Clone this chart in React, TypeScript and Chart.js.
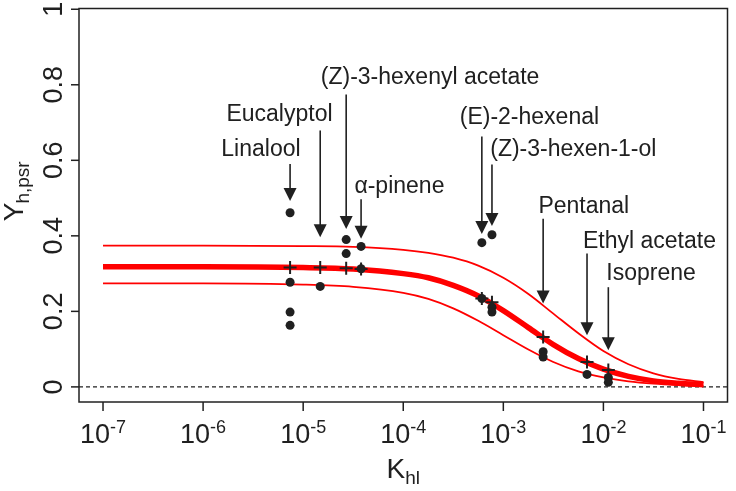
import { useEffect, useRef } from 'react';
import { Chart, registerables } from 'chart.js';

Chart.register(...registerables);

const FONT = '"Liberation Sans", Arial, Helvetica, sans-serif';
const INK = '#202020';
const RED = '#ff0000';

// Fitted partition curve (thick) and its upper / lower bounds, sampled along K_hl
const curveKhl = [1e-7, 1e-6, 1e-5, 3.16e-5, 1e-4, 1.78e-4, 3.16e-4, 5.62e-4, 1e-3, 1.78e-3, 3.16e-3, 5.62e-3, 1e-2, 1.78e-2, 3.16e-2, 5.62e-2, 1e-1];
const fitMid = [0.318, 0.318, 0.316, 0.312, 0.300, 0.289, 0.269, 0.241, 0.202, 0.157, 0.112, 0.075, 0.047, 0.028, 0.016, 0.0097, 0.0054];
const fitUpper = [0.374, 0.374, 0.373, 0.371, 0.363, 0.355, 0.342, 0.321, 0.289, 0.246, 0.194, 0.142, 0.095, 0.060, 0.036, 0.021, 0.0125];
const fitLower = [0.274, 0.274, 0.271, 0.265, 0.249, 0.233, 0.208, 0.175, 0.137, 0.099, 0.066, 0.041, 0.025, 0.0146, 0.0084, 0.0048, 0.0027];

// Compounds, their K_hl and the model prediction (+)
const compounds = ['Linalool', 'Eucalyptol', '(Z)-3-hexenyl acetate', 'α-pinene', '(E)-2-hexenal', '(Z)-3-hexen-1-ol', 'Pentanal', 'Ethyl acetate', 'Isoprene'];
const compoundKhl = [7.4e-6, 1.48e-5, 2.69e-5, 3.79e-5, 6.1e-4, 7.7e-4, 2.5e-3, 6.86e-3, 1.12e-2];
const predicted = [0.316, 0.316, 0.314, 0.312, 0.234, 0.224, 0.132, 0.066, 0.045];

// Measured yields: compound index and value
const obsCompound = [0, 0, 0, 0, 1, 2, 2, 3, 3, 4, 4, 5, 5, 5, 6, 6, 7, 8, 8];
const obsValue = [0.461, 0.277, 0.198, 0.163, 0.266, 0.390, 0.353, 0.372, 0.313, 0.382, 0.234, 0.403, 0.211, 0.198, 0.093, 0.079, 0.033, 0.025, 0.012];

// Annotation arrows and labels (data units)
const arrowTop = [0.590, 0.679, 0.774, 0.497, 0.663, 0.589, 0.445, 0.353, 0.264];
const arrowTip = [0.492, 0.396, 0.418, 0.392, 0.405, 0.426, 0.221, 0.137, 0.097];
const labelY = [0.611, 0.703, 0.803, 0.513, 0.695, 0.611, 0.461, 0.369, 0.282];
const labelKhl = [1.52e-6, 1.71e-6, 1.50e-5, 3.25e-5, 3.67e-4, 7.40e-4, 2.24e-3, 6.25e-3, 1.07e-2];

// Axis ticks
const xTicks = [1e-7, 1e-6, 1e-5, 1e-4, 1e-3, 1e-2, 1e-1];
const yTicks = [0, 0.2, 0.4, 0.6, 0.8, 1];

const decor = {
  id: 'decor',
  beforeDatasetsDraw(chart: any) {
    const { ctx, chartArea: a, scales } = chart;
    const y0 = scales.y.getPixelForValue(0);
    ctx.save();
    ctx.strokeStyle = INK;
    ctx.lineWidth = 1.3;
    ctx.setLineDash([4, 3]);
    ctx.beginPath();
    ctx.moveTo(a.left, y0);
    ctx.lineTo(a.right, y0);
    ctx.stroke();
    ctx.restore();
  },
  afterDatasetsDraw(chart: any) {
    const { ctx, scales } = chart;
    const { x, y } = scales;
    ctx.save();
    ctx.strokeStyle = INK;
    ctx.fillStyle = INK;
    ctx.lineWidth = 1.6;
    compounds.forEach((name, i) => {
      const px = x.getPixelForValue(compoundKhl[i]);
      const yTop = y.getPixelForValue(arrowTop[i]);
      const yTip = y.getPixelForValue(arrowTip[i]);
      ctx.beginPath();
      ctx.moveTo(px, yTop);
      ctx.lineTo(px, yTip - 12);
      ctx.stroke();
      ctx.beginPath();
      ctx.moveTo(px - 6.5, yTip - 13);
      ctx.lineTo(px + 6.5, yTip - 13);
      ctx.lineTo(px, yTip);
      ctx.closePath();
      ctx.fill();
      ctx.font = `23px ${FONT}`;
      ctx.textAlign = 'left';
      ctx.textBaseline = 'alphabetic';
      ctx.fillText(name, x.getPixelForValue(labelKhl[i]), y.getPixelForValue(labelY[i]));
    });
    ctx.restore();
  },
  afterDraw(chart: any) {
    const { ctx, chartArea: a, scales } = chart;
    const { x, y } = scales;
    ctx.save();
    ctx.strokeStyle = INK;
    ctx.fillStyle = INK;
    ctx.lineWidth = 1.5;
    ctx.strokeRect(a.left, a.top, a.right - a.left, a.bottom - a.top);

    // x axis: decade ticks with superscript exponents
    x.ticks.forEach((t: any) => {
      const px = x.getPixelForValue(t.value);
      ctx.beginPath();
      ctx.moveTo(px, a.bottom);
      ctx.lineTo(px, a.bottom + 9);
      ctx.stroke();
      const exp = String(Math.round(Math.log10(t.value)));
      ctx.font = `27px ${FONT}`;
      const wb = ctx.measureText('10').width;
      ctx.font = `18px ${FONT}`;
      const ws = ctx.measureText(exp).width;
      const start = px - (wb + ws) / 2;
      ctx.textAlign = 'left';
      ctx.textBaseline = 'alphabetic';
      ctx.font = `27px ${FONT}`;
      ctx.fillText('10', start, a.bottom + 41);
      ctx.font = `18px ${FONT}`;
      ctx.fillText(exp, start + wb, a.bottom + 31);
    });

    // y axis: labels parallel to the axis
    y.ticks.forEach((t: any) => {
      const py = y.getPixelForValue(t.value);
      ctx.beginPath();
      ctx.moveTo(a.left - 8, py);
      ctx.lineTo(a.left, py);
      ctx.stroke();
      ctx.save();
      ctx.translate(a.left - 17, py);
      ctx.rotate(-Math.PI / 2);
      ctx.font = `27px ${FONT}`;
      ctx.textAlign = 'center';
      ctx.textBaseline = 'alphabetic';
      ctx.fillText(String(Math.round(t.value * 10) / 10), 0, 0);
      ctx.restore();
    });

    // y title: Y with subscript h,psr
    const cy = (a.top + a.bottom) / 2;
    ctx.save();
    ctx.translate(a.left - 56, cy + 16);
    ctx.rotate(-Math.PI / 2);
    ctx.textAlign = 'left';
    ctx.font = `28px ${FONT}`;
    ctx.fillText('Y', 0, 0);
    const wY = ctx.measureText('Y').width;
    ctx.font = `19px ${FONT}`;
    ctx.fillText('h,psr', wY - 1, 6);
    ctx.restore();

    // x title: K with subscript hl
    const cx = (a.left + a.right) / 2;
    ctx.font = `28px ${FONT}`;
    const wK = ctx.measureText('K').width;
    ctx.font = `19px ${FONT}`;
    const wh = ctx.measureText('hl').width;
    const sx = cx - (wK + wh) / 2;
    ctx.textAlign = 'left';
    ctx.font = `28px ${FONT}`;
    ctx.fillText('K', sx, a.bottom + 76);
    ctx.font = `19px ${FONT}`;
    ctx.fillText('hl', sx + wK, a.bottom + 82);
    ctx.restore();
  },
};

export default function App() {
  const ref = useRef<HTMLCanvasElement>(null);

  useEffect(() => {
    const curve = (vals: number[]) => curveKhl.map((k, i) => ({ x: k, y: vals[i] }));
    const chart = new Chart(ref.current as HTMLCanvasElement, {
      type: 'scatter',
      data: {
        datasets: [
          {
            label: 'measured',
            data: obsCompound.map((c, i) => ({ x: compoundKhl[c], y: obsValue[i] })),
            pointRadius: 4.5,
            pointBackgroundColor: INK,
            pointBorderWidth: 0,
            order: 0,
          },
          {
            label: 'model',
            data: compoundKhl.map((k, i) => ({ x: k, y: predicted[i] })),
            pointStyle: 'cross',
            pointRadius: 6.5,
            pointBorderColor: INK,
            pointBorderWidth: 2,
            order: 1,
          },
          {
            label: 'fit',
            data: curve(fitMid),
            showLine: true,
            borderColor: RED,
            borderWidth: 5.5,
            pointRadius: 0,
            cubicInterpolationMode: 'monotone',
            order: 2,
          },
          {
            label: 'upper',
            data: curve(fitUpper),
            showLine: true,
            borderColor: RED,
            borderWidth: 1.8,
            pointRadius: 0,
            cubicInterpolationMode: 'monotone',
            order: 3,
          },
          {
            label: 'lower',
            data: curve(fitLower),
            showLine: true,
            borderColor: RED,
            borderWidth: 1.8,
            pointRadius: 0,
            cubicInterpolationMode: 'monotone',
            order: 4,
          },
        ],
      } as any,
      options: {
        animation: false,
        responsive: true,
        maintainAspectRatio: false,
        events: [],
        layout: { padding: { left: 0, right: 5, top: 6, bottom: 0 } },
        plugins: { legend: { display: false }, tooltip: { enabled: false } },
        scales: {
          x: {
            type: 'logarithmic',
            min: Math.pow(10, -7.24),
            max: Math.pow(10, -0.76),
            grid: { display: false },
            border: { display: false },
            ticks: { display: false },
            afterBuildTicks: (s: any) => { s.ticks = xTicks.map((v) => ({ value: v })); },
            afterFit: (s: any) => { s.height = 89; },
          },
          y: {
            type: 'linear',
            min: -0.04,
            max: 1.002,
            grid: { display: false },
            border: { display: false },
            ticks: { display: false },
            afterBuildTicks: (s: any) => { s.ticks = yTicks.map((v) => ({ value: v })); },
            afterFit: (s: any) => { s.width = 79; },
          },
        },
      } as any,
      plugins: [decor],
    });
    return () => chart.destroy();
  }, []);

  return (
    <div style={{ position: 'absolute', left: 0, top: 0, width: 736, height: 491, background: '#fff' }}>
      <canvas ref={ref} />
    </div>
  );
}
